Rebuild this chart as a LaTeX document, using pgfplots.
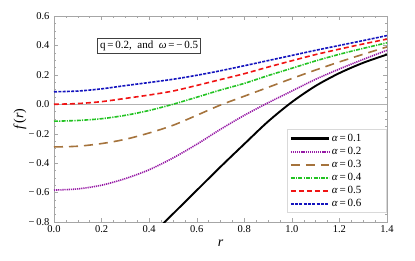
\documentclass[border=0pt]{standalone}
\usepackage{pgfplots}
\pgfplotsset{compat=1.18}
\usepackage{fontspec}
\setmainfont{Liberation Serif}
\definecolor{cpurple}{RGB}{150,25,165}
\definecolor{cbrown}{RGB}{165,115,60}
\definecolor{cgreen}{RGB}{35,195,35}
\definecolor{cred}{RGB}{240,20,20}
\definecolor{cblue}{RGB}{20,20,190}
\newcommand{\leg}[1]{\makebox[50pt][l]{{\itshape α}\,=\,#1}}
\begin{document}
\begin{tikzpicture}
\useasboundingbox (-54pt,-38pt) rectangle (361pt,222pt);
\begin{axis}[
  at={(0,0)}, anchor=south west,
  scale only axis, width=333pt, height=206pt,
  xmin=0, xmax=1.4, ymin=-0.8, ymax=0.6,
  xtick={0,0.2,0.4,0.6,0.8,1.0,1.2,1.4},
  xticklabels={0.0,0.2,0.4,0.6,0.8,1.0,1.2,1.4},
  ytick={-0.8,-0.6,-0.4,-0.2,0,0.2,0.4,0.6},
  yticklabels={−\,0.8,−\,0.6,−\,0.4,−\,0.2,0.0,0.2,0.4,0.6},
  minor x tick num=3, minor y tick num=3,
  tick align=inside,
  major tick length=4pt, minor tick length=2pt,
  axis line style={gray!70},
  every tick/.style={gray!70},
  ticklabel style={font=\fontsize{10.5}{12}\selectfont},
  yticklabel style={xshift=-1pt},
  xlabel={\fontsize{14}{14}\selectfont\itshape r},
  ylabel={\fontsize{14}{14}\selectfont\itshape f\,\upshape(\itshape r\upshape)},
  x label style={at={(axis description cs:0.5,-0.102)}, anchor=center},
  y label style={at={(axis description cs:-0.102,0.5)}, anchor=center},
  clip=true,
  legend cell align=left,
  legend style={at={(rel axis cs:0.999,0.045)}, anchor=south east, draw=gray!30,
     font=\fontsize{11}{12}\selectfont, row sep=0.2pt, inner sep=2.5pt,
     /tikz/every even column/.append style={column sep=3pt}},
  legend image code/.code={\draw[#1] (0pt,0pt) -- (38pt,0pt);},
]
\addplot[gray!60, thin, forget plot] coordinates {(0,0) (1.4,0)};
\addplot[black, line width=1.9pt, smooth, forget plot] coordinates {
(0.40,-0.905) (0.5,-0.745) (0.6,-0.585) (0.7,-0.425) (0.8,-0.27) (0.9,-0.117) (1.0,0.015) (1.1,0.125) (1.2,0.212) (1.3,0.282) (1.4,0.338)};
\addlegendimage{black, line width=2.2pt}
\addlegendentry{\leg{0.1}}
\addplot[cpurple, line width=1.6pt, dash pattern=on 1.2pt off 0.9pt, smooth, forget plot] coordinates {
(0,-0.583) (0.1,-0.575) (0.2,-0.55) (0.3,-0.505) (0.4,-0.445) (0.5,-0.365) (0.6,-0.272) (0.7,-0.17) (0.8,-0.075) (0.9,0.01) (1.0,0.09) (1.1,0.17) (1.2,0.24) (1.3,0.305) (1.4,0.367)};
\addlegendimage{cpurple, line width=2pt, dash pattern=on 1.2pt off 0.9pt}
\addlegendentry{\leg{0.2}}
\addplot[cbrown, line width=1.6pt, dash pattern=on 9pt off 6pt, smooth, forget plot] coordinates {
(0,-0.29) (0.1,-0.285) (0.2,-0.267) (0.3,-0.238) (0.4,-0.195) (0.5,-0.143) (0.6,-0.075) (0.7,-0.005) (0.8,0.055) (0.9,0.115) (1.0,0.175) (1.1,0.233) (1.2,0.288) (1.3,0.34) (1.4,0.39)};
\addlegendimage{cbrown, line width=2pt, dash pattern=on 9pt off 6pt}
\addlegendentry{\leg{0.3}}
\addplot[cgreen, line width=1.6pt, dash pattern=on 4pt off 1.2pt on 1.2pt off 1.2pt, smooth, forget plot] coordinates {
(0,-0.115) (0.1,-0.11) (0.2,-0.098) (0.3,-0.075) (0.4,-0.042) (0.5,0.0) (0.6,0.048) (0.7,0.097) (0.8,0.142) (0.9,0.195) (1.0,0.245) (1.1,0.295) (1.2,0.34) (1.3,0.38) (1.4,0.418)};
\addlegendimage{cgreen, line width=2pt, dash pattern=on 4pt off 1.2pt on 1.2pt off 1.2pt}
\addlegendentry{\leg{0.4}}
\addplot[cred, line width=1.6pt, dash pattern=on 5pt off 3pt, smooth, forget plot] coordinates {
(0,0.0) (0.1,0.005) (0.2,0.018) (0.3,0.04) (0.4,0.063) (0.5,0.09) (0.6,0.128) (0.7,0.168) (0.8,0.208) (0.9,0.253) (1.0,0.296) (1.1,0.338) (1.2,0.375) (1.3,0.41) (1.4,0.443)};
\addlegendimage{cred, line width=2pt, dash pattern=on 5pt off 3pt}
\addlegendentry{\leg{0.5}}
\addplot[cblue, line width=1.6pt, dash pattern=on 3pt off 1.3pt, smooth, forget plot] coordinates {
(0,0.085) (0.1,0.09) (0.2,0.105) (0.3,0.127) (0.4,0.148) (0.5,0.17) (0.6,0.197) (0.7,0.228) (0.8,0.262) (0.9,0.297) (1.0,0.332) (1.1,0.367) (1.2,0.40) (1.3,0.433) (1.4,0.467)};
\addlegendimage{cblue, line width=2pt, dash pattern=on 3pt off 1.3pt}
\addlegendentry{\leg{0.6}}
\node[draw=black!75, line width=1pt, fill=white, inner sep=2.5pt, font=\fontsize{11}{12}\selectfont] at (axis cs:0.40,0.396) {q\,=\,0.2, \ and \ {\itshape ω}\,=\,−\,0.5};
\end{axis}
\end{tikzpicture}
\end{document}
